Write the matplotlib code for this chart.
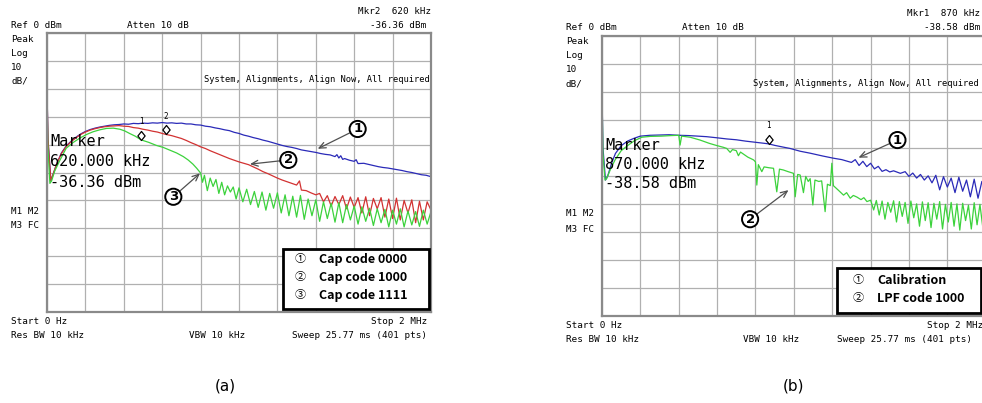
import numpy as np
import matplotlib.pyplot as plt
from matplotlib.path import Path
from matplotlib.patches import Rectangle

W, H = 982, 403

# ---- (a) cap code sweep : frequency in MHz, level in dBm ----
freq_a1 = [0.000, 0.005, 0.020, 0.030, 0.050, 0.075, 0.100, 0.125, 0.150, 0.175,
           0.200, 0.225, 0.250, 0.275, 0.300, 0.325, 0.350, 0.375, 0.400, 0.425,
           0.450, 0.475, 0.500, 0.525, 0.550, 0.575, 0.600, 0.625, 0.650, 0.675,
           0.700, 0.725, 0.750, 0.775, 0.800, 0.825, 0.850, 0.875, 0.900, 0.925,
           0.950, 0.975, 1.000, 1.025, 1.050, 1.075, 1.100, 1.125, 1.150, 1.175,
           1.200, 1.225, 1.250, 1.275, 1.300, 1.325, 1.350, 1.375, 1.400, 1.425,
           1.450, 1.475, 1.500, 1.510, 1.520, 1.530, 1.540, 1.550, 1.575, 1.600,
           1.610, 1.620, 1.650, 1.675, 1.700, 1.725, 1.750, 1.775, 1.800, 1.825,
           1.850, 1.875, 1.900, 1.925, 1.950, 1.975, 2.000]
level_a1 = [-20.4, -38.0, -53.0, -51.0, -47.0, -43.0, -40.5, -38.8, -37.4, -36.2,
            -35.3, -34.6, -34.1, -33.7, -33.4, -33.1, -32.9, -32.8, -32.6, -32.7,
            -32.4, -32.5, -32.3, -32.4, -32.2, -32.3, -32.1, -32.3, -32.2, -32.4,
            -32.3, -32.6, -32.6, -32.9, -33.0, -33.4, -33.6, -34.0, -34.3, -34.7,
            -35.0, -35.6, -36.0, -36.6, -37.0, -37.5, -37.9, -38.4, -38.8, -39.3,
            -39.8, -40.3, -40.7, -41.0, -41.4, -41.9, -42.2, -42.5, -42.8, -43.2,
            -43.5, -43.7, -44.3, -43.6, -44.8, -44.0, -45.3, -45.0, -45.6, -46.0,
            -45.4, -46.8, -46.7, -47.1, -47.5, -47.9, -48.2, -48.4, -48.7, -49.0,
            -49.3, -49.7, -50.0, -50.4, -50.8, -51.0, -51.5]

freq_a2 = [0.000, 0.005, 0.020, 0.030, 0.050, 0.075, 0.100, 0.125, 0.150, 0.175,
           0.200, 0.225, 0.250, 0.275, 0.300, 0.325, 0.350, 0.375, 0.400, 0.425,
           0.450, 0.475, 0.500, 0.525, 0.550, 0.575, 0.600, 0.620, 0.650, 0.675,
           0.700, 0.725, 0.750, 0.775, 0.800, 0.825, 0.850, 0.875, 0.900, 0.925,
           0.950, 0.975, 1.000, 1.025, 1.050, 1.075, 1.100, 1.125, 1.150, 1.175,
           1.200, 1.225, 1.250, 1.275, 1.300, 1.315, 1.325, 1.350, 1.375, 1.400,
           1.420, 1.440, 1.460, 1.480, 1.500, 1.520, 1.540, 1.560, 1.580, 1.600,
           1.620, 1.640, 1.660, 1.680, 1.700, 1.720, 1.740, 1.760, 1.780, 1.800,
           1.820, 1.840, 1.860, 1.880, 1.900, 1.920, 1.940, 1.960, 1.980, 2.000]
level_a2 = [-20.4, -38.0, -53.0, -51.0, -47.0, -43.2, -40.7, -39.0, -37.6, -36.4,
            -35.5, -34.8, -34.3, -33.9, -33.6, -33.4, -33.3, -33.2, -33.4, -33.5,
            -33.9, -34.1, -34.5, -34.8, -35.2, -35.5, -36.0, -36.36, -36.8, -37.3,
            -37.8, -38.5, -39.3, -40.0, -40.8, -41.4, -42.2, -42.9, -43.6, -44.3,
            -45.0, -45.6, -46.2, -46.7, -47.2, -48.0, -48.8, -49.7, -50.4, -51.2,
            -52.0, -52.7, -53.3, -53.9, -54.5, -53.0, -56.3, -56.5, -57.3, -58.0,
            -57.5, -60.5, -58.3, -62.0, -58.6, -61.5, -58.3, -63.0, -58.8, -62.5,
            -59.0, -64.5, -58.7, -65.5, -59.3, -63.0, -59.0, -66.0, -59.5, -66.5,
            -59.2, -67.0, -60.0, -64.5, -59.8, -68.0, -60.3, -67.0, -60.5, -63.5]

freq_a3 = [0.000, 0.004, 0.015, 0.024, 0.040, 0.068, 0.100, 0.135, 0.170, 0.205,
           0.240, 0.275, 0.310, 0.345, 0.380, 0.405, 0.430, 0.460, 0.490, 0.530,
           0.570, 0.605, 0.640, 0.675, 0.710, 0.735, 0.760, 0.780, 0.800, 0.810,
           0.820, 0.835, 0.850, 0.865, 0.880, 0.895, 0.910, 0.925, 0.940, 0.955,
           0.970, 0.985, 1.000, 1.020, 1.040, 1.060, 1.080, 1.100, 1.120, 1.140,
           1.160, 1.180, 1.200, 1.220, 1.240, 1.260, 1.280, 1.300, 1.320, 1.340,
           1.360, 1.380, 1.400, 1.420, 1.440, 1.460, 1.480, 1.500, 1.520, 1.540,
           1.560, 1.580, 1.600, 1.620, 1.640, 1.660, 1.680, 1.700, 1.720, 1.740,
           1.760, 1.780, 1.800, 1.820, 1.840, 1.860, 1.880, 1.900, 1.920, 1.940,
           1.960, 1.980, 2.000]
level_a3 = [-20.4, -40.0, -53.9, -53.0, -49.5, -45.5, -41.3, -39.3, -37.7, -36.4,
            -35.4, -34.7, -34.2, -34.1, -34.5, -35.1, -36.0, -37.0, -38.3, -39.2,
            -40.3, -41.0, -42.0, -43.0, -44.3, -45.5, -47.0, -48.5, -50.2, -53.5,
            -51.0, -56.5, -52.0, -55.0, -52.5, -57.5, -53.5, -58.0, -54.8, -57.0,
            -55.2, -59.5, -55.5, -60.5, -56.0, -61.5, -56.8, -62.5, -57.0, -63.5,
            -57.5, -62.8, -57.3, -64.5, -58.0, -65.5, -58.5, -66.0, -58.2, -66.8,
            -59.5, -65.5, -59.8, -67.5, -60.5, -66.5, -61.0, -67.8, -60.8, -68.0,
            -61.5, -67.0, -62.0, -68.5, -62.3, -67.5, -62.8, -69.0, -63.0, -68.0,
            -63.2, -69.5, -63.5, -68.5, -63.0, -69.5, -63.8, -68.8, -64.0, -69.3,
            -63.5, -68.5, -64.0]

# ---- (b) calibration vs LPF code ----
freq_b1 = [0.000, 0.005, 0.018, 0.030, 0.050, 0.070, 0.100, 0.135, 0.170, 0.200,
           0.250, 0.300, 0.350, 0.400, 0.450, 0.500, 0.546, 0.600, 0.650, 0.700,
           0.750, 0.800, 0.850, 0.870, 0.900, 0.950, 0.980, 1.033, 1.085, 1.150,
           1.207, 1.250, 1.300, 1.320, 1.340, 1.360, 1.380, 1.400, 1.420, 1.440,
           1.460, 1.480, 1.500, 1.520, 1.555, 1.580, 1.600, 1.620, 1.640, 1.660,
           1.680, 1.700, 1.720, 1.740, 1.760, 1.780, 1.800, 1.820, 1.840, 1.860,
           1.880, 1.900, 1.920, 1.940, 1.960, 1.980, 2.000]
level_b1 = [-20.5, -40.0, -51.5, -50.0, -45.5, -42.0, -39.2, -37.5, -36.5, -35.8,
            -35.5, -35.4, -35.3, -35.5, -35.6, -35.8, -36.0, -36.4, -36.8, -37.1,
            -37.6, -38.0, -38.4, -38.58, -39.1, -39.8, -40.2, -41.2, -41.9, -42.9,
            -43.7, -44.2, -45.2, -44.2, -46.3, -44.8, -46.7, -45.5, -47.5, -46.6,
            -48.4, -47.8, -48.6, -48.2, -49.1, -48.5, -50.2, -49.0, -50.8, -49.5,
            -51.5, -50.0, -52.5, -49.8, -55.0, -50.3, -54.0, -50.8, -56.0, -50.5,
            -55.5, -51.5, -57.5, -51.2, -58.0, -52.0, -57.0]

freq_b2 = [0.000, 0.005, 0.016, 0.024, 0.045, 0.068, 0.100, 0.137, 0.170, 0.207,
           0.250, 0.310, 0.360, 0.400, 0.407, 0.415, 0.460, 0.511, 0.560, 0.600,
           0.633, 0.650, 0.668, 0.680, 0.700, 0.711, 0.722, 0.760, 0.790, 0.800,
           0.807, 0.815, 0.833, 0.845, 0.870, 0.894, 0.911, 0.925, 0.945, 0.970,
           0.998, 1.007, 1.020, 1.033, 1.050, 1.062, 1.075, 1.085, 1.099, 1.110,
           1.130, 1.145, 1.163, 1.175, 1.190, 1.198, 1.206, 1.233, 1.259, 1.275,
           1.294, 1.310, 1.329, 1.350, 1.365, 1.381, 1.400, 1.416, 1.430, 1.445,
           1.460, 1.475, 1.490, 1.505, 1.520, 1.535, 1.550, 1.565, 1.580, 1.595,
           1.610, 1.625, 1.640, 1.655, 1.670, 1.685, 1.700, 1.715, 1.730, 1.745,
           1.760, 1.775, 1.790, 1.805, 1.820, 1.835, 1.850, 1.865, 1.880, 1.895,
           1.910, 1.925, 1.940, 1.955, 1.970, 1.985, 2.000]
level_b2 = [-20.5, -42.0, -51.5, -51.0, -47.5, -44.3, -41.0, -39.0, -37.4, -36.2,
            -35.9, -35.8, -35.6, -35.5, -39.0, -35.8, -36.2, -37.2, -38.4, -39.2,
            -39.8, -40.2, -41.6, -40.6, -41.0, -42.8, -41.5, -43.3, -44.3, -45.0,
            -53.3, -46.0, -48.5, -46.8, -47.1, -47.3, -55.7, -47.6, -47.9, -48.5,
            -49.1, -57.5, -49.5, -49.7, -56.0, -50.2, -52.0, -51.0, -60.4, -51.5,
            -52.0, -51.8, -62.8, -53.0, -53.5, -45.5, -53.5, -55.2, -56.9, -56.0,
            -58.0, -57.0, -57.6, -58.5, -57.8, -59.2, -58.7, -62.2, -58.8, -64.0,
            -59.0, -65.5, -59.5, -63.0, -58.9, -66.5, -59.2, -64.5, -59.5, -67.0,
            -59.0, -65.0, -60.0, -68.0, -59.3, -66.0, -59.6, -68.5, -59.8, -65.5,
            -59.2, -69.0, -60.2, -66.5, -59.5, -68.0, -60.0, -69.4, -59.8, -66.0,
            -60.5, -69.0, -59.6, -67.5, -60.2, -68.5, -61.0]

legend_a = ["Cap code 0000", "Cap code 1000", "Cap code 1111"]
legend_b = ["Calibration", "LPF code 1000"]
circled = ["\u2460", "\u2461", "\u2462"]

BLUE, RED, GREEN = "#2a2ab8", "#d23232", "#3cd23c"
MONO = "DejaVu Sans Mono"
LEG_FONT = ["Noto Sans CJK KR", "DejaVu Sans"]

fig = plt.figure(figsize=(W / 100, H / 100), dpi=100)


def fx(x):
    return x / W


def fy(y):
    return 1 - y / H


def screen(left, top, right, bottom):
    ax = fig.add_axes([fx(left), fy(bottom), (right - left) / W, (bottom - top) / H])
    ax.set_xlim(0, 2)
    ax.set_ylim(-100, 0)
    ax.set_xticks(np.linspace(0, 2, 11))
    ax.set_yticks(np.arange(-100, 1, 10))
    ax.tick_params(length=0, labelbottom=False, labelleft=False)
    ax.grid(True, color="#b0b0b0", lw=0.9)
    for s in ax.spines.values():
        s.set_color("#8a8a8a")
        s.set_linewidth(1.6)
    return ax


# diamond whose lower tip sits on the trace point
diamond = Path([(0, 0), (0.8, 1), (0, 2), (-0.8, 1), (0, 0)],
               [Path.MOVETO, Path.LINETO, Path.LINETO, Path.LINETO, Path.CLOSEPOLY])


def marker(ax, f, lv, num):
    ax.plot([f], [lv], ls="none", marker=diamond, ms=13, mfc="white",
            mec="black", mew=0.9, zorder=6)
    ax.annotate(num, (f, lv), xytext=(0, 10), textcoords="offset points",
                ha="center", va="bottom", fontsize=5.5, family=MONO)


def callout(ax, num, tip, at):
    ax.annotate(num, xy=tip, xytext=at, ha="center", va="center",
                fontsize=9.5, fontweight="bold", family="DejaVu Sans",
                bbox=dict(boxstyle="circle,pad=0.12", fc="white", ec="black", lw=1.4),
                arrowprops=dict(arrowstyle="->,head_length=0.5,head_width=0.22",
                                color="#505050", lw=0.9, shrinkA=0, shrinkB=0),
                zorder=7)


def ftext(x, y, s, size=6.7, ha="left", **kw):
    fig.text(fx(x), fy(y), s, ha=ha, va="center", fontsize=size, family=MONO, **kw)


def legend_box(ax, x0, y0, x1, y1, labels, xc, xt, ys):
    ax.add_patch(Rectangle((fx(x0), fy(y1)), (x1 - x0) / W, (y1 - y0) / H,
                           transform=fig.transFigure, fc="white", ec="black",
                           lw=2, zorder=8, clip_on=False))
    for i, (lab, y) in enumerate(zip(labels, ys)):
        fig.text(fx(xc), fy(y), circled[i], ha="center", va="center",
                 fontsize=8, family=LEG_FONT, zorder=9)
        fig.text(fx(xt), fy(y), lab, ha="left", va="center", fontsize=9,
                 fontweight="bold", family=LEG_FONT, zorder=9)


# ---------------- (a) ----------------
ax1 = screen(47, 33, 431, 312)
ax1.plot(freq_a1, level_a1, color=BLUE, lw=0.9)
ax1.plot(freq_a2, level_a2, color=RED, lw=0.9)
ax1.plot(freq_a3, level_a3, color=GREEN, lw=0.9)
marker(ax1, 0.49, -38.3, "1")
marker(ax1, 0.62, -36.36, "2")
callout(ax1, "1", (1.41, -41.5), (1.618, -34.4))
callout(ax1, "2", (1.057, -47.0), (1.257, -45.5))
callout(ax1, "3", (0.797, -50.3), (0.658, -58.7))
legend_box(ax1, 283, 249, 429, 309, legend_a, 300, 319, [259.3, 277.3, 295.3])

ftext(11, 25, "Ref 0 dBm")
ftext(127, 25, "Atten 10 dB")
ftext(431, 11, "Mkr2  620 kHz", ha="right")
ftext(426, 25, "-36.36 dBm", ha="right")
for i, s in enumerate(["Peak", "Log", "10", "dB/"]):
    ftext(11, 39 + 14 * i, s)
ftext(430, 80, "System, Alignments, Align Now, All required", size=6.3, ha="right")
ftext(50, 142, "Marker", size=11)
ftext(50, 162, "620.000 kHz", size=11)
ftext(50, 182, "-36.36 dBm", size=11)
ftext(11, 212, "M1 M2")
ftext(11, 226, "M3 FC")
ftext(11, 321.5, "Start 0 Hz")
ftext(11, 335, "Res BW 10 kHz")
ftext(189, 335, "VBW 10 kHz")
ftext(427, 335, "Sweep 25.77 ms (401 pts)", ha="right")
ftext(427, 321.5, "Stop 2 MHz", ha="right")

# ---------------- (b) ----------------
ax2 = screen(602, 36, 985.7, 315.7)
ax2.plot(freq_b1, level_b1, color=BLUE, lw=0.9)
ax2.plot(freq_b2, level_b2, color=GREEN, lw=0.9)
marker(ax2, 0.87, -38.58, "1")
callout(ax2, "1", (1.337, -43.5), (1.540, -37.2))
callout(ax2, "2", (0.972, -55.1), (0.772, -65.5))
legend_box(ax2, 837, 268, 980.5, 313, legend_b, 858, 877, [280, 298.3])

ftext(566, 28, "Ref 0 dBm")
ftext(682, 28, "Atten 10 dB")
ftext(907, 14, "Mkr1  870 kHz")
ftext(980, 28, "-38.58 dBm", ha="right")
for i, s in enumerate(["Peak", "Log", "10", "dB/"]):
    ftext(566, 42 + 14 * i, s)
ftext(753, 83, "System, Alignments, Align Now, All required", size=6.3)
ftext(605, 145, "Marker", size=11)
ftext(605, 164, "870.000 kHz", size=11)
ftext(605, 184, "-38.58 dBm", size=11)
ftext(566, 214, "M1 M2")
ftext(566, 230, "M3 FC")
ftext(566, 325, "Start 0 Hz")
ftext(566, 339, "Res BW 10 kHz")
ftext(743, 339, "VBW 10 kHz")
ftext(837, 339, "Sweep 25.77 ms (401 pts)")
ftext(983, 325, "Stop 2 MHz", ha="right")

fig.text(fx(225), fy(386), "(a)", ha="center", va="center", fontsize=11)
fig.text(fx(794), fy(386), "(b)", ha="center", va="center", fontsize=11)

fig.savefig("out.png", dpi=100)
